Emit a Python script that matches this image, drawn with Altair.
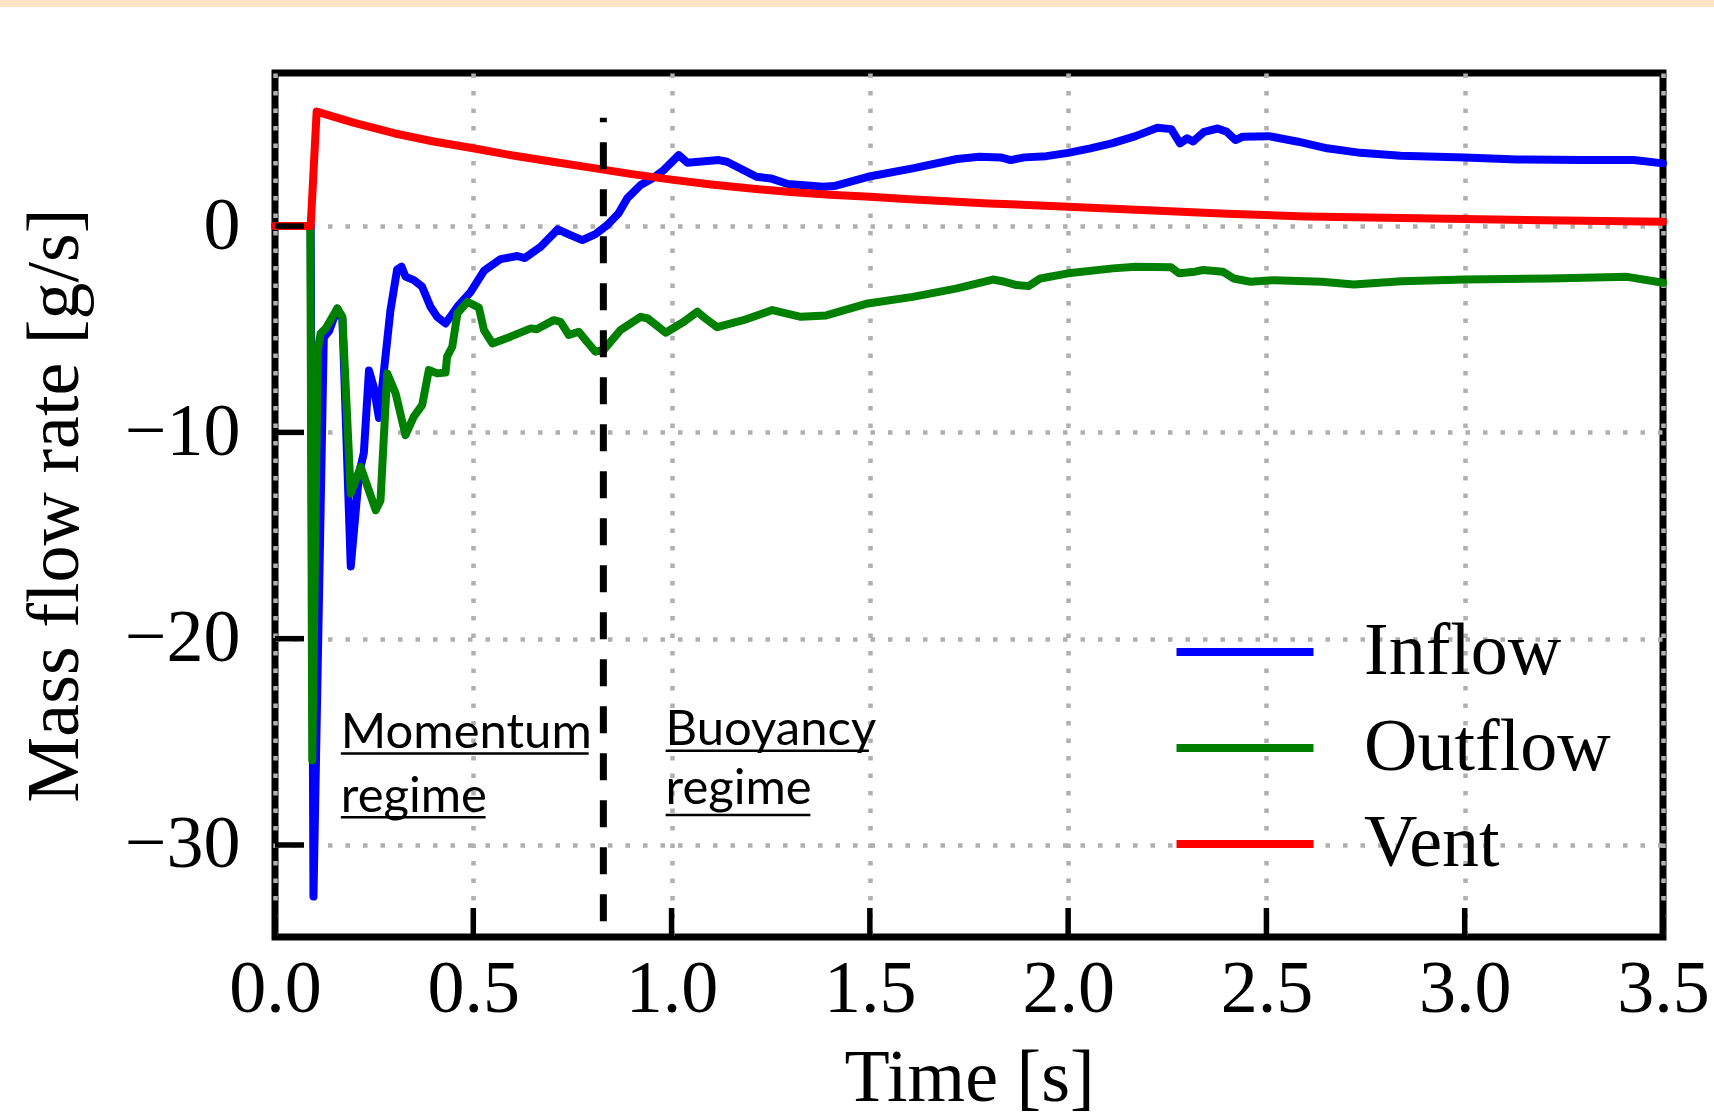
import altair as alt
import pandas as pd

# ---------------- data ----------------
series_names = ["Inflow", "Outflow", "Vent"]
series_colors = ["#0000ff", "#008000", "#ff0000"]

t_inflow = [0.0, 0.09, 0.097, 0.123, 0.136, 0.157, 0.17, 0.191, 0.212, 0.224, 0.237, 0.249,
            0.262, 0.291, 0.308, 0.319, 0.329, 0.35, 0.371, 0.392, 0.409, 0.43, 0.46, 0.493,
            0.527, 0.569, 0.611, 0.63, 0.67, 0.713, 0.745, 0.775, 0.808, 0.838, 0.866, 0.888,
            0.922, 0.951, 0.98, 1.018, 1.04, 1.119, 1.14, 1.214, 1.25, 1.293, 1.383, 1.41,
            1.495, 1.608, 1.72, 1.776, 1.83, 1.855, 1.89, 1.945, 2.0, 2.056, 2.11, 2.17,
            2.225, 2.26, 2.282, 2.30, 2.315, 2.343, 2.377, 2.40, 2.422, 2.44, 2.506, 2.58,
            2.653, 2.737, 2.838, 3.0, 3.132, 3.3, 3.426, 3.5]
v_inflow = [0.0, 0.0, -32.5, -5.4, -5.1, -4.0, -4.5, -16.5, -12.0, -11.0, -7.0, -7.8,
            -9.3, -4.1, -2.1, -1.97, -2.45, -2.62, -2.94, -3.91, -4.4, -4.72, -3.91, -3.2,
            -2.17, -1.6, -1.45, -1.55, -1.0, -0.16, -0.44, -0.68, -0.39, 0.05, 0.61, 1.34,
            1.99, 2.3, 2.71, 3.44, 3.07, 3.2, 3.12, 2.39, 2.31, 2.04, 1.91, 1.94,
            2.39, 2.8, 3.25, 3.36, 3.33, 3.2, 3.33, 3.39, 3.55, 3.77, 4.01, 4.36,
            4.77, 4.7, 4.01, 4.25, 4.1, 4.57, 4.73, 4.57, 4.17, 4.33, 4.36, 4.09,
            3.77, 3.55, 3.41, 3.33, 3.23, 3.2, 3.2, 3.04]

t_outflow = [0.0, 0.089, 0.094, 0.108, 0.115, 0.128, 0.157, 0.17, 0.191, 0.216, 0.254, 0.266,
             0.283, 0.304, 0.329, 0.35, 0.371, 0.388, 0.409, 0.43, 0.434, 0.447, 0.46, 0.485,
             0.514, 0.527, 0.548, 0.594, 0.645, 0.66, 0.703, 0.72, 0.741, 0.766, 0.783, 0.808,
             0.829, 0.871, 0.922, 0.94, 0.985, 1.031, 1.065, 1.08, 1.115, 1.181, 1.254, 1.326,
             1.39, 1.495, 1.608, 1.72, 1.81, 1.84, 1.87, 1.90, 1.93, 2.0, 2.113, 2.17,
             2.26, 2.28, 2.32, 2.34, 2.39, 2.417, 2.46, 2.52, 2.64, 2.72, 2.84, 3.0,
             3.216, 3.41, 3.5]
v_outflow = [0.0, 0.0, -25.9, -6.0, -5.2, -4.96, -3.99, -4.4, -12.96, -11.67, -13.77, -13.3,
             -7.14, -8.1, -10.13, -9.24, -8.68, -6.98, -7.14, -7.1, -6.33, -5.85, -4.23, -3.67,
             -3.95, -5.04, -5.69, -5.36, -4.96, -5.0, -4.56, -4.64, -5.28, -5.12, -5.52, -6.09,
             -6.0, -5.04, -4.4, -4.48, -5.17, -4.64, -4.15, -4.4, -4.9, -4.56, -4.07, -4.4,
             -4.33, -3.75, -3.43, -3.02, -2.59, -2.7, -2.86, -2.91, -2.54, -2.29, -2.05, -1.97,
             -2.0, -2.29, -2.21, -2.13, -2.21, -2.54, -2.7, -2.62, -2.7, -2.83, -2.67, -2.59,
             -2.54, -2.46, -2.75]

t_vent = [0.0, 0.09, 0.105, 0.2, 0.3, 0.4, 0.5, 0.6, 0.7, 0.8, 0.9, 1.0, 1.1, 1.2, 1.3,
          1.4, 1.5, 1.6, 1.8, 2.0, 2.2, 2.4, 2.6, 2.8, 3.0, 3.25, 3.5]
v_vent = [0.0, 0.0, 5.55, 5.0, 4.5, 4.1, 3.77, 3.42, 3.12, 2.82, 2.52, 2.25, 2.02, 1.82, 1.65,
          1.52, 1.42, 1.3, 1.1, 0.94, 0.77, 0.6, 0.47, 0.4, 0.34, 0.27, 0.21]

x_ticks = [0.0, 0.5, 1.0, 1.5, 2.0, 2.5, 3.0, 3.5]
y_ticks = [-30, -20, -10, 0]
x_domain = [0.0, 3.5]
y_domain = [-34.46, 7.42]

# regime separator
sep_t = [0.828]
sep_bottom = [-33.7]
sep_top = [5.25]

# annotations
ann_label = ["Momentum", "regime", "Buoyancy", "regime"]
ann_t = [0.166, 0.166, 0.985, 0.985]
ann_v = [-25.32, -28.39, -25.16, -28.02]
ul_t0 = [0.166, 0.166, 0.985, 0.985]
ul_t1 = [0.791, 0.531, 1.4975, 1.350]
ul_v = [-25.56, -28.66, -25.43, -28.55]

# ---------------- frames ----------------
rows = []
for name, ts, vs in [("Inflow", t_inflow, v_inflow), ("Outflow", t_outflow, v_outflow),
                     ("Vent", t_vent, v_vent)]:
    assert len(ts) == len(vs), name
    for i, (t, v) in enumerate(zip(ts, vs)):
        rows.append({"series": name, "t": t, "v": v, "i": i})
lines_df = pd.DataFrame(rows)

W, H = 1388, 864
SERIF = "Liberation Serif"
FS = 74

xscale = alt.Scale(domain=x_domain, nice=False, zero=False)
yscale = alt.Scale(domain=y_domain, nice=False, zero=False)

x_axis = alt.Axis(values=x_ticks, format=".1f", labelFont=SERIF, labelFontSize=FS,
                  labelColor="black", labelPadding=74, labelBaseline="alphabetic",
                  labelFlush=False, ticks=False, tickSize=0, domain=False,
                  grid=True, gridColor="#b0b0b0", gridDash=[4.5, 13], gridWidth=4.5,
                  title="Time [s]", titleFont=SERIF, titleFontSize=FS,
                  titleFontWeight="normal", titleColor="black",
                  titleX=694, titleY=163, titleBaseline="alphabetic", titleAlign="center")
y_axis = alt.Axis(values=y_ticks, labelFont=SERIF, labelFontSize=FS, labelColor="black",
                  labelPadding=35, labelBaseline="middle", labelFlush=False,
                  ticks=False, tickSize=0, domain=False,
                  grid=True, gridColor="#b0b0b0", gridDash=[4.5, 13], gridWidth=4.5,
                  title="Mass flow rate [g/s]", titleFont=SERIF, titleFontSize=FS,
                  titleFontWeight="normal", titleColor="black",
                  titleX=-220, titleY=432, titleAngle=270, titleBaseline="middle",
                  titleAlign="center")

legend = alt.Legend(orient="none", legendX=933, legendY=542, title=None,
                    symbolType="M-2.7,0L2.7,0", symbolSize=2574, symbolStrokeWidth=8,
                    labelFont=SERIF, labelFontSize=FS, labelColor="black", labelLimit=0,
                    labelOffset=82, rowPadding=22, padding=0, labelBaseline="middle")

lines = alt.Chart(lines_df).mark_line(strokeWidth=8, strokeJoin="round", strokeCap="round").encode(
    x=alt.X("t:Q", scale=xscale, axis=x_axis),
    y=alt.Y("v:Q", scale=yscale, axis=y_axis),
    color=alt.Color("series:N", scale=alt.Scale(domain=series_names, range=series_colors),
                    legend=legend),
    order=alt.Order("i:Q"),
)

sep_df = pd.DataFrame({"t": sep_t, "v": sep_bottom, "v2": sep_top})
sep = alt.Chart(sep_df).mark_rule(color="black", strokeWidth=7, strokeDash=[27, 20]).encode(
    x="t:Q", y="v:Q", y2="v2:Q")

ann_df = pd.DataFrame({"t": ann_t, "v": ann_v, "label": ann_label})
ann = alt.Chart(ann_df).mark_text(align="left", baseline="alphabetic", font="Lato",
                                  fontSize=49, color="black").encode(
    x="t:Q", y="v:Q", text="label:N")

ul_df = pd.DataFrame({"t": ul_t0, "t2": ul_t1, "v": ul_v})
ul = alt.Chart(ul_df).mark_rule(color="black", strokeWidth=2.5).encode(
    x="t:Q", x2="t2:Q", y="v:Q")

xt_df = pd.DataFrame({"t": x_ticks})
xt = alt.Chart(xt_df).mark_rule(color="black", strokeWidth=5.5).encode(
    x="t:Q", y=alt.value(H), y2=alt.value(H - 29))
yt_df = pd.DataFrame({"v": y_ticks})
yt = alt.Chart(yt_df).mark_rule(color="black", strokeWidth=5.5).encode(
    y="v:Q", x=alt.value(0), x2=alt.value(29))

band_df = pd.DataFrame({"k": [0]})
band = alt.Chart(band_df).mark_rect(color="#ffe3c6").encode(
    x=alt.value(-275), x2=alt.value(1714 - 275), y=alt.value(-73), y2=alt.value(-66))

chart = alt.layer(lines, sep, ann, ul, xt, yt, band).properties(
    width=W, height=H,
    autosize=alt.AutoSizeParams(type="none"),
    padding={"left": 275, "top": 73, "right": 51, "bottom": 178},
    background="white",
).configure_view(stroke="black", strokeWidth=7)

chart.save("out.html", embed_options={"renderer": "svg", "actions": False})
